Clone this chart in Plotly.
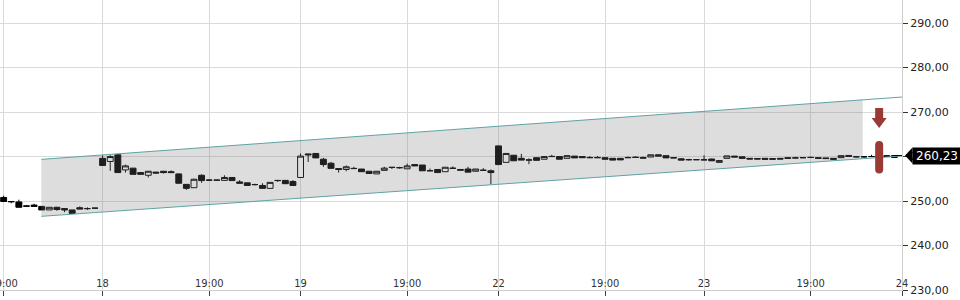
import numpy as np
import plotly.graph_objects as go

# ---------------- data ----------------
open_ = [250.8, 249.9, 249.8, 248.9, 249.1, 248.8, 248.0, 248.6, 248.3, 248.0, 248.5, 248.3, 248.4,
         259.6, 258.9, 260.4, 257.0, 257.4, 256.4, 255.8, 256.5, 256.7, 256.6, 256.1, 253.75, 253.0, 255.8,
         254.7, 254.7, 254.65, 255.3, 254.3, 254.1, 253.7, 253.5, 252.85, 254.65, 254.65, 254.4,
         255.3, 260.6, 260.7, 259.4, 258.5, 257.3, 257.1, 257.35, 257.2, 256.7, 256.1, 256.9, 257.6,
         257.5, 257.25, 258.2, 258.1, 256.85, 257.1, 256.6, 257.4, 257.1, 257.2, 256.7, 256.95, 256.8,
         262.4, 258.7, 260.3, 259.6, 259.2, 259.75, 259.4, 260.05, 260.0, 259.6, 260.1, 260.0, 259.8,
         259.8, 259.75, 259.6, 259.6, 259.8, 259.85, 259.8, 259.9, 260.4, 260.2, 259.75, 259.5, 259.3, 259.3,
         259.3, 259.45, 258.7, 259.6, 260.1, 259.95, 259.6, 259.55, 259.6, 259.55, 259.6, 259.75, 259.7,
         259.75, 259.8, 259.75, 259.7, 259.6, 259.75, 260.25, 259.95, 259.95, 260.0, 260.2, 260.2, 259.8]
high_ = [251.2, 250.0, 250.3, 249.0, 249.4, 248.8, 248.6, 248.7, 248.3, 248.0, 248.8, 248.6, 248.45,
         260.3, 260.3, 260.6, 258.2, 257.4, 256.4, 256.7, 256.6, 256.7, 256.9, 256.2, 253.75, 255.0, 256.0,
         254.85, 254.75, 255.8, 255.3, 254.7, 254.1, 253.9, 254.0, 254.2, 254.7, 254.65, 254.7,
         260.7, 260.6, 260.7, 259.7, 258.8, 257.3, 258.0, 257.7, 257.2, 256.7, 256.7, 257.7, 257.6,
         257.7, 258.4, 258.3, 258.1, 257.3, 257.1, 257.6, 257.8, 257.1, 257.7, 257.2, 257.4, 257.1,
         262.4, 260.7, 260.3, 260.6, 259.6, 259.75, 260.0, 260.4, 260.0, 260.2, 260.1, 260.0, 260.1,
         260.1, 259.8, 259.65, 259.6, 260.0, 260.05, 260.0, 260.4, 260.45, 260.2, 259.8, 259.6, 259.5, 259.35,
         260.3, 259.5, 259.15, 260.15, 260.1, 259.95, 259.65, 259.6, 259.6, 259.55, 259.6, 259.75, 259.95,
         259.8, 260.0, 259.75, 259.7, 259.6, 260.2, 260.3, 260.1, 260.1, 260.4, 260.25, 260.2, 260.3]
low_ = [249.8, 249.5, 248.6, 248.8, 248.8, 248.0, 248.0, 247.8, 247.5, 247.2, 248.2, 248.0, 248.35,
        258.0, 256.8, 256.4, 256.4, 256.0, 256.0, 255.3, 256.2, 256.2, 256.3, 254.0, 252.5, 253.0, 254.1,
        254.55, 254.65, 254.6, 254.6, 254.0, 253.5, 253.5, 252.85, 252.85, 254.3, 253.9, 253.5,
        255.3, 258.8, 259.7, 257.7, 257.35, 256.4, 256.7, 257.3, 256.6, 256.2, 256.1, 256.9, 257.2,
        257.3, 257.25, 257.9, 256.8, 256.8, 256.4, 256.6, 257.35, 256.9, 256.5, 256.7, 256.9, 253.75,
        258.2, 258.7, 259.05, 259.2, 258.3, 259.15, 259.4, 260.0, 259.4, 259.6, 259.7, 259.75, 259.75,
        259.75, 259.4, 259.2, 259.25, 259.75, 259.8, 259.65, 259.9, 260.1, 259.7, 259.7, 259.2, 259.1, 259.25,
        259.2, 259.0, 258.7, 259.6, 259.9, 259.55, 259.4, 259.4, 259.35, 259.35, 259.4, 259.55, 259.65,
        259.7, 259.75, 259.55, 259.5, 259.35, 259.75, 260.0, 259.85, 259.85, 259.95, 259.95, 259.95, 259.8]
close_ = [249.9, 249.85, 248.6, 248.85, 248.8, 248.0, 248.6, 248.1, 248.0, 247.2, 248.2, 248.3, 248.4,
          258.0, 260.0, 256.4, 257.9, 256.0, 256.0, 256.7, 256.3, 256.4, 256.4, 254.0, 252.85, 254.9, 254.6,
          254.7, 254.7, 255.3, 254.6, 254.0, 253.5, 253.7, 252.85, 254.2, 254.6, 253.9, 253.5,
          260.1, 260.4, 259.7, 258.2, 257.35, 257.1, 257.7, 257.3, 256.6, 256.2, 256.7, 257.4, 257.55,
          257.5, 257.9, 257.9, 256.8, 256.8, 256.4, 257.6, 257.35, 256.95, 256.5, 257.2, 256.9, 256.4,
          258.2, 260.7, 259.05, 259.2, 259.25, 259.15, 260.0, 260.0, 259.4, 260.2, 259.7, 259.75, 259.75,
          259.75, 259.4, 259.2, 259.25, 259.75, 259.8, 259.65, 260.4, 260.1, 259.7, 259.7, 259.2, 259.3, 259.3,
          259.25, 259.05, 259.1, 260.15, 259.9, 259.6, 259.45, 259.45, 259.4, 259.4, 259.45, 259.6, 259.7,
          259.75, 259.8, 259.6, 259.55, 259.4, 260.2, 260.05, 259.95, 259.95, 260.0, 260.0, 260.0, 260.23]
x_idx = list(range(len(open_)))

tick_pos = [0, 13, 27, 39, 53, 65, 79, 92, 106, 118]
tick_text = ["19:00", "18", "19:00", "19", "19:00", "22", "19:00", "23", "19:00", "24"]
y_ticks = [230, 240, 250, 260, 270, 280, 290]

channel_x = [4.95, 118.5]
channel_upper = [259.37, 273.45]
channel_lower = [246.56, 260.2]
shade_end_x = 112.84

signal_x = 115
arrow_top, arrow_neck, arrow_tip = 270.9, 268.66, 266.4
range_top, range_bottom = 263.5, 256.2
last_price = close_[-1]

# ---------------- styles ----------------
GRID = "#dadada"
TEAL = "#5fa3a5"
SIGNAL = "#993a35"
FONT = "DejaVu Sans"

fig = go.Figure()

# shaded channel
u_end = float(np.interp(shade_end_x, channel_x, channel_upper))
l_end = float(np.interp(shade_end_x, channel_x, channel_lower))
fig.add_trace(go.Scatter(
    x=[channel_x[0], shade_end_x, shade_end_x, channel_x[0], channel_x[0]],
    y=[channel_upper[0], u_end, l_end, channel_lower[0], channel_upper[0]],
    fill="toself", fillcolor="rgba(120,120,120,0.25)", mode="lines",
    line=dict(width=0), hoverinfo="skip"))
for ys in (channel_upper, channel_lower):
    fig.add_trace(go.Scatter(x=channel_x, y=ys, mode="lines",
                             line=dict(color=TEAL, width=1), hoverinfo="skip"))

# last price line
fig.add_trace(go.Scatter(x=[x_idx[-1], 118.5], y=[last_price, last_price], mode="lines",
                         line=dict(color="black", width=1), hoverinfo="skip"))

# candles
fig.add_trace(go.Candlestick(
    x=x_idx, open=open_, high=high_, low=low_, close=close_,
    increasing=dict(line=dict(color="black", width=1), fillcolor="white"),
    decreasing=dict(line=dict(color="black", width=1), fillcolor="black"),
    whiskerwidth=0, hoverinfo="skip"))

# signal arrow
fig.add_shape(type="path", xref="x", yref="y", xsizemode="pixel", xanchor=signal_x,
              path=(f"M -4,{arrow_top} L 4,{arrow_top} L 4,{arrow_neck} L 7.5,{arrow_neck} "
                    f"L 0,{arrow_tip} L -7.5,{arrow_neck} L -4,{arrow_neck} Z"),
              fillcolor=SIGNAL, line=dict(width=0), layer="above")
# range pill
r = 0.9
t, b = range_top, range_bottom
fig.add_shape(type="path", xref="x", yref="y", xsizemode="pixel", xanchor=signal_x,
              path=(f"M -4,{t - r} L -4,{b + r} Q -4,{b} 0,{b} Q 4,{b} 4,{b + r} "
                    f"L 4,{t - r} Q 4,{t} 0,{t} Q -4,{t} -4,{t - r} Z"),
              fillcolor=SIGNAL, line=dict(width=0), layer="above")

# last price label
fig.add_shape(type="path", xref="paper", yref="y", xsizemode="pixel", xanchor=1,
              ysizemode="pixel", yanchor=last_price,
              path="M 3,0 L 10.5,8 L 10.5,-8 Z", fillcolor="black", line=dict(width=0))
fig.add_annotation(x=1, xref="paper", y=last_price, yref="y", xanchor="left", yanchor="middle",
                   xshift=10, text=f"{last_price:.2f}".replace(".", ","), showarrow=False,
                   bgcolor="black", font=dict(color="white", size=12, family=FONT),
                   borderpad=1, width=46, height=14, align="center")

fig.update_layout(
    width=960, height=300, margin=dict(l=0, r=58, t=0, b=10),
    separators=",.", showlegend=False,
    plot_bgcolor="white", paper_bgcolor="white",
    boxgap=0.12, boxgroupgap=0.12,
    font=dict(family=FONT, size=11, color="#333"),
    xaxis=dict(range=[-0.478, 118.0], tickmode="array", tickvals=tick_pos, ticktext=tick_text,
               ticks="outside", ticklen=5, tickcolor="#444", showgrid=True, gridcolor=GRID,
               showline=True, linecolor="#cfcfcf", zeroline=False,
               ticklabelposition="inside", ticklabeloverflow="allow",
               tickfont=dict(size=11, color="#333", family="DejaVu Sans Condensed"),
               rangeslider=dict(visible=False),
               fixedrange=True, automargin=False),
    yaxis=dict(side="right", range=[230, 295.2], tickmode="array", tickvals=y_ticks,
               tickformat=".2f", ticks="outside", ticklen=5, tickcolor="#333",
               showgrid=True, gridcolor=GRID, showline=True, linecolor="#cfcfcf",
               zeroline=False, tickfont=dict(size=11, color="#222"),
               fixedrange=True, automargin=False),
)

fig.write_html("out.html", config={"displayModeBar": False})
